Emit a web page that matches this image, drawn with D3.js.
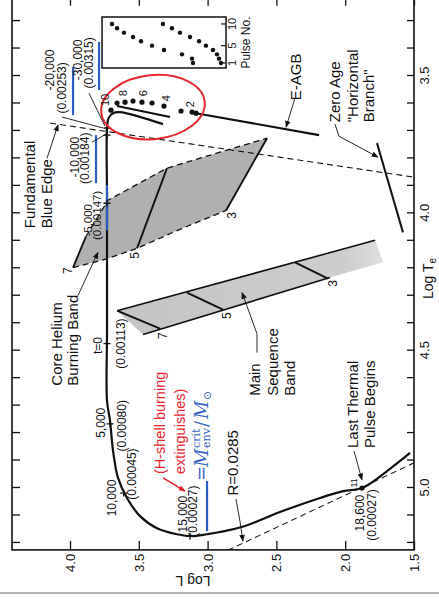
<!DOCTYPE html>
<html>
<head>
<meta charset="utf-8">
<script src="https://cdn.jsdelivr.net/npm/d3@7/dist/d3.min.js"></script>
<style>
  body { margin: 0; background: #fff; }
  svg text { font-family: "Liberation Sans", Arial, sans-serif; fill: #111; }
</style>
</head>
<body>
<div id="chart"></div>
<script>
// all points are [log Te, log L]
var track = [[3.679,3.324],[3.635,3.637],[3.639,3.688],[3.657,3.720],[3.693,3.731],[3.956,3.731],
  [4.431,3.731],[4.686,3.731],[4.759,3.709],[4.869,3.687],[4.967,3.651],[5.040,3.586],[5.106,3.491],
  [5.150,3.368],[5.172,3.222],[5.179,3.113],[5.172,3.004],[5.164,2.910],[5.142,2.728],[5.091,2.474],
  [5.040,2.183],[5.015,2.016],[5.004,1.878],[4.942,1.696],[4.876,1.529]];
var loopTop = [[3.613,3.658],[3.653,3.273]];
var eagb = [[3.639,3.084],[3.719,2.190]];
var zahb = [[3.748,1.769],[4.073,1.580]];
var blueEdge = [[3.675,4.145],[3.872,1.5]];
var radiusLine = [[5.230,2.852],[4.912,1.5]];

// thermal pulses 1..10
var pulseNo = [1,2,3,4,5,6,7,8,9,10];
var pulseTe = [3.639,3.635,3.631,3.613,3.602,3.599,3.595,3.599,3.602,3.628];
var pulseL  = [3.084,3.113,3.193,3.317,3.404,3.477,3.542,3.600,3.658,3.702];
var insetA  = [3.106,3.113,3.186,3.317,3.404,3.484,3.542,3.608,3.658,3.695];
var insetB  = [2.903,2.917,2.932,2.961,3.012,3.062,3.128,3.201,3.259,3.324];

// core helium burning band
var heUpper = [[4.088,3.884],[3.956,3.724],[3.839,3.295],[3.781,2.910],[3.730,2.568]];
var heLower = [[4.201,3.978],[4.168,3.724],[4.131,3.513],[4.062,3.201],[3.993,2.866]];
var heMass = [[7,[4.201,3.978],[4.088,3.884]],[5,[4.131,3.513],[3.839,3.295]],[3,[3.993,2.866],[3.730,2.568]]];
// main sequence band
var msUpper = [[4.358,3.658],[4.102,1.783]];
var msLower = [[4.445,3.469],[4.237,2.110]];
var msEnd = [4.182,1.725];
var msMass = [[7,[4.358,3.658],[4.423,3.346]],[5,[4.292,3.150],[4.354,2.888]],[3,[4.182,2.365],[4.241,2.125]]];

// ages (yr) marked on the track
var ageTe = [3.693,3.719,3.967,4.478,4.770,5.022,5.179];
var ageL  = [3.731,3.731,3.731,3.731,3.709,3.610,3.128];
var lastPulse = [5.004,1.878];

var lTicks = [4.0,3.5,3.0,2.5,2.0,1.5];
var teTicks = d3.range(33, 53).map(function (d) { return d / 10; });
var teLabels = [3.5,4.0,4.5,5.0];

var W = 439, H = 600;
var xL = d3.scaleLinear().domain([4.0, 1.5]).range([70, 414]);
var yTe = d3.scaleLinear().domain([3.5, 5.0]).range([75, 487]);
var py = d3.scaleLinear().domain([-0.15, 11.6]).range([68, 17]);

var fx = [xL(4.4215), xL(1.5)], fy = [yTe(3.2226), yTe(5.229)];

var svg = d3.select("#chart").append("svg").attr("width", W).attr("height", H);
var defs = svg.append("defs");
defs.append("clipPath").attr("id", "plot").append("rect")
  .attr("x", fx[0]).attr("y", fy[0]).attr("width", fx[1] - fx[0]).attr("height", fy[1] - fy[0]);
function marker(id, col) {
  defs.append("marker").attr("id", id).attr("viewBox", "0 0 10 10").attr("refX", 9).attr("refY", 5)
    .attr("markerWidth", 7).attr("markerHeight", 7).attr("markerUnits", "userSpaceOnUse").attr("orient", "auto")
    .append("path").attr("d", "M0,1 L10,5 L0,9 z").attr("fill", col);
}
marker("arr", "#111");
marker("arrR", "#e8262e");
var msGrad = defs.append("linearGradient").attr("id", "msg").attr("x1", "0").attr("x2", "1").attr("y1", "0").attr("y2", "0");
msGrad.append("stop").attr("offset", "0").attr("stop-color", "#c4c4c4");
msGrad.append("stop").attr("offset", "0.85").attr("stop-color", "#cdcdcd");
msGrad.append("stop").attr("offset", "1").attr("stop-color", "#dedede");

var line = d3.line().x(function (d) { return xL(d[1]); }).y(function (d) { return yTe(d[0]); });
var P = function (d) { return [xL(d[1]), yTe(d[0])]; };

var plot = svg.append("g").attr("clip-path", "url(#plot)");

// bands
plot.append("path").attr("d", line(heUpper.concat(heLower.slice().reverse())) + "Z").attr("fill", "#b0b0b0");
plot.append("path").attr("d", line([msUpper[0], msUpper[1], msEnd, msLower[1], msLower[0]]) + "Z").attr("fill", "url(#msg)");
plot.append("path").attr("d", line(heUpper)).attr("fill", "none").attr("stroke", "#111").attr("stroke-width", 1.3).attr("stroke-dasharray", "6,4");
plot.append("path").attr("d", line(heLower)).attr("fill", "none").attr("stroke", "#111").attr("stroke-width", 1.3).attr("stroke-dasharray", "6,4");
[msUpper, msLower].forEach(function (s) {
  plot.append("path").attr("d", line(s)).attr("fill", "none").attr("stroke", "#111").attr("stroke-width", 1.6);
});
heMass.concat(msMass).forEach(function (m) {
  plot.append("path").attr("d", line([m[1], m[2]])).attr("fill", "none").attr("stroke", "#111").attr("stroke-width", 1.9);
});

// dashed reference lines
[blueEdge, radiusLine].forEach(function (s) {
  plot.append("path").attr("d", line(s)).attr("fill", "none").attr("stroke", "#111").attr("stroke-width", 1.1).attr("stroke-dasharray", "6,4");
});

// blue env-mass bars [te0, te1, l]
var envBars = [[3.380,3.555,3.789],[3.471,3.646,3.978],[3.719,3.894,3.811],[3.901,4.066,3.731],[4.978,5.161,3.004]];

// tracks
plot.append("path").attr("d", line.curve(d3.curveCatmullRom.alpha(0.5))(track)).attr("fill", "none").attr("stroke", "#111").attr("stroke-width", 2.2);
line.curve(d3.curveLinear);
[loopTop, eagb].forEach(function (s) {
  plot.append("path").attr("d", line(s)).attr("fill", "none").attr("stroke", "#111").attr("stroke-width", 2.1);
});
plot.append("path").attr("d", line(zahb)).attr("fill", "none").attr("stroke", "#111").attr("stroke-width", 2);

envBars.forEach(function (b) {
  plot.append("line").attr("x1", xL(b[2])).attr("x2", xL(b[2])).attr("y1", yTe(b[0])).attr("y2", yTe(b[1]))
    .attr("stroke", "#2a5cc4").attr("stroke-width", 2.2);
});

// age ticks
ageTe.forEach(function (t, i) {
  var x = xL(ageL[i]), y = yTe(t);
  plot.append("path").attr("d", "M" + (x - 3.5) + "," + y + "H" + (x + 3.5) + "M" + x + "," + (y - 3.5) + "V" + (y + 3.5))
    .attr("stroke", "#111").attr("stroke-width", 1.3);
});
plot.append("circle").attr("cx", P(lastPulse)[0]).attr("cy", P(lastPulse)[1]).attr("r", 2.6).attr("fill", "#111");

// pulses
plot.selectAll(".pulse").data(pulseNo).enter().append("circle")
  .attr("cx", function (d, i) { return xL(pulseL[i]); })
  .attr("cy", function (d, i) { return yTe(pulseTe[i]); })
  .attr("r", 2.6).attr("fill", "#111");

// red ellipse
var ec = P([3.617, 3.397]);
plot.append("ellipse").attr("transform", "translate(" + ec[0] + "," + ec[1] + ") rotate(-6)")
  .attr("rx", 52).attr("ry", 32).attr("fill", "none").attr("stroke", "#e8262e").attr("stroke-width", 2);

// inset
var ix = [xL(3.767), xL(2.866)];
var inset = svg.append("g");
inset.append("rect").attr("x", ix[0]).attr("y", py(11.6)).attr("width", ix[1] - ix[0]).attr("height", py(-0.15) - py(11.6))
  .attr("fill", "#fff").attr("stroke", "#111").attr("stroke-width", 1.5);
[insetA, insetB].forEach(function (s) {
  inset.selectAll(null).data(pulseNo).enter().append("circle")
    .attr("cx", function (d, i) { return xL(s[i]); })
    .attr("cy", function (d) { return py(d); })
    .attr("r", 2.2).attr("fill", "#111");
});
[1, 5, 10].forEach(function (p) {
  inset.append("line").attr("x1", ix[1] - 5).attr("x2", ix[1]).attr("y1", py(p)).attr("y2", py(p)).attr("stroke", "#111").attr("stroke-width", 1.2);
  inset.append("text").attr("transform", "translate(" + (ix[1] + 6) + "," + py(p) + ") rotate(-90)")
    .attr("text-anchor", "middle").attr("dy", "0.35em").style("font-size", "11px").text(p);
});
inset.append("text").attr("transform", "translate(" + (ix[1] + 20) + "," + ((py(11.6) + py(-0.15)) / 2) + ") rotate(-90)")
  .attr("text-anchor", "middle").attr("dy", "0.35em").style("font-size", "12px").text("Pulse No.");

// frame and axes
svg.append("rect").attr("x", fx[0]).attr("y", fy[0]).attr("width", fx[1] - fx[0]).attr("height", fy[1] - fy[0])
  .attr("fill", "none").attr("stroke", "#111").attr("stroke-width", 1.6);
function clean(g) { g.select(".domain").remove(); g.selectAll("line").attr("stroke", "#111").attr("stroke-width", 1.3); }
svg.append("g").attr("transform", "translate(" + fx[0] + ",0)")
  .call(d3.axisLeft(yTe).tickValues(teTicks).tickSize(-8).tickFormat("")).call(clean);
var ra = svg.append("g").attr("transform", "translate(" + fx[1] + ",0)")
  .call(d3.axisRight(yTe).tickValues(teTicks).tickSize(-7)
    .tickFormat(function (d) { return teLabels.some(function (v) { return Math.abs(v - d) < 1e-6; }) ? d3.format(".1f")(d) : ""; }))
  .call(clean);
ra.selectAll("text").attr("x", null).attr("dy", "0.35em").attr("text-anchor", "middle")
  .attr("transform", "translate(10,0) rotate(-90)").style("font-size", "13px").attr("fill", "#111");
var ba = svg.append("g").attr("transform", "translate(0," + fy[1] + ")")
  .call(d3.axisBottom(xL).tickValues(lTicks).tickSize(-9).tickFormat(d3.format(".1f"))).call(clean);
ba.selectAll("text").attr("y", null).attr("dy", "0.35em").attr("text-anchor", "middle")
  .attr("transform", "translate(0,13) rotate(-90)").style("font-size", "13px").attr("fill", "#111");
svg.append("g").attr("transform", "translate(0," + fy[0] + ")")
  .call(d3.axisTop(xL).tickValues(lTicks).tickSize(-7).tickFormat("")).call(clean);

svg.append("text").attr("transform", "translate(428," + yTe(4.241) + ") rotate(-90)")
  .attr("text-anchor", "middle").attr("dy", "0.35em").style("font-size", "14px")
  .html('Log T<tspan dy="3" style="font-size:10px">e</tspan>');
svg.append("text").attr("transform", "translate(" + xL(3.106) + ",581) rotate(180)")
  .attr("text-anchor", "middle").attr("dy", "0.35em").style("font-size", "14px").text("Log L");
svg.append("line").attr("x1", 0).attr("x2", W).attr("y1", 593).attr("y2", 593).attr("stroke", "#999").attr("stroke-width", 1.5);

// annotations: [log Te, log L, text, size, anchor, colour]
var notes = [
  [3.445,3.942,"-30,000",12],[3.456,3.862,"(0.00315)",12],
  [3.482,4.145,"-20,000",12],[3.547,4.058,"(0.00253)",12],
  [3.799,3.964,"-10,000",12],[3.803,3.891,"(0.00184)",12],
  [4.029,3.872,"-5,000",11.5],[4.011,3.807,"(0.00147)",11.5],
  [4.485,3.797,"t=0",12],[4.478,3.629,"(0.00113)",12],
  [4.766,3.775,"5,000",12],[4.777,3.622,"(0.00080)",12],
  [5.040,3.695,"10,000",12],[4.953,3.549,"(0.00045)",12],
  [5.099,3.179,"15,000",12],[5.088,3.106,"(0.00027)",12],
  [5.095,1.892,"18,600",12],[5.102,1.805,"(0.00027)",12],
  [4.985,1.936,"11",9],
  [3.591,3.746,"10",11],[3.566,3.615,"8",11],[3.566,3.469,"6",11],[3.584,3.302,"4",11],[3.606,3.128,"2",11],
  [4.212,4.015,"7",12],[4.157,3.528,"5",12],[4.011,2.823,"3",12],
  [4.449,3.324,"7",12],[4.376,2.859,"5",12],[4.259,2.089,"3",12],
  [4.058,4.291,"Fundamental",15,"start"],[4.058,4.167,"Blue Edge",15,"start"],
  [4.631,4.094,"Core Helium",15,"start"],[4.631,3.978,"Burning Band",15,"start"],
  [4.668,2.655,"Main",15,"start"],[4.668,2.525,"Sequence",15,"start"],[4.668,2.401,"Band",15,"start"],
  [3.507,2.358,"E-AGB",15],
  [3.672,2.074,"Zero Age",15,"start"],[3.672,1.943,"\"Horizontal",15,"start"],[3.672,1.827,"Branch\"",15,"start"],
  [4.858,1.943,"Last Thermal",15,"start"],[4.858,1.820,"Pulse Begins",15,"start"],
  [4.912,2.815,"R=0.0285",15],
  [4.953,3.346,"(H-shell burning",14.5,"start","#e8262e"],[4.953,3.201,"extinguishes)",14.5,"start","#e8262e"]
];
notes.forEach(function (n) {
  var p = P([n[0], n[1]]);
  svg.append("text").attr("transform", "translate(" + p[0] + "," + p[1] + ") rotate(-90)")
    .attr("text-anchor", n[4] || "middle").attr("dy", "0.35em").style("font-size", n[3] + "px")
    .style("fill", n[5] || "#111").text(n[2]);
});

// leader lines
var leaders = [
  [[3.653,4.058],[3.693,3.760]], [[3.566,3.862],[3.686,3.746]], [[3.745,3.840],[3.715,3.738]]
];
var arrows = [
  [[3.803,4.167],[3.682,4.087]],
  [[4.303,3.942],[4.146,3.797]],
  [[4.511,2.641],[4.442,2.641],[4.292,2.750]],
  [[3.584,2.365],[3.690,2.430]],
  [[3.679,2.074],[3.723,2.045],[3.799,1.762]],
  [[5.044,2.794],[5.124,2.765],[5.197,2.743]],
  [[4.869,1.936],[4.974,1.878]]
];
leaders.forEach(function (s) {
  svg.append("path").attr("d", line(s)).attr("fill", "none").attr("stroke", "#111").attr("stroke-width", 0.9);
});
arrows.forEach(function (s) {
  svg.append("path").attr("d", line(s)).attr("fill", "none").attr("stroke", "#111").attr("stroke-width", 0.9).attr("marker-end", "url(#arr)");
});
svg.append("path").attr("d", line([[4.967,3.324],[5.015,3.164]])).attr("fill", "none")
  .attr("stroke", "#e8262e").attr("stroke-width", 1.6).attr("marker-end", "url(#arrR)");

// M_env^crit / M_sun
var fp = P([4.978, 2.997]);
var fg = svg.append("g").attr("transform", "translate(" + fp[0] + "," + fp[1] + ") rotate(-90)");
var serif = '"DejaVu Serif", "Liberation Serif", serif';
function ft(x, y, s, size, it) {
  fg.append("text").attr("x", x).attr("y", y).style("font-family", serif).style("font-size", size + "px")
    .style("font-style", it ? "italic" : "normal").style("fill", "#3a66c8").text(s);
}
ft(0, 0, "=", 18);
ft(14, 0, "M", 18, true);
ft(33, -8, "crit", 11);
ft(33, 2, "env", 11);
ft(54, 0, "/", 18);
ft(62, 0, "M", 18, true);
ft(81, 3, "\u2299", 11);
</script>
</body>
</html>
